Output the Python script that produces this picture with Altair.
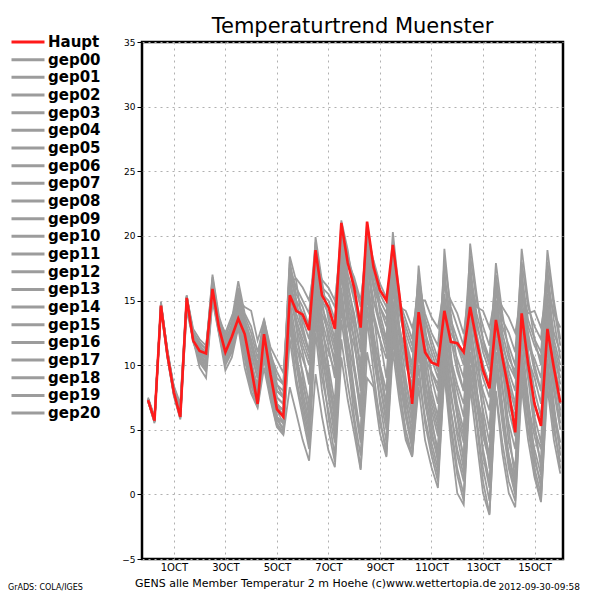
import altair as alt
import pandas as pd

# 6-hourly forecast steps, 2012-09-30 00Z .. 2012-10-16 00Z
times = pd.date_range("2012-09-30 00:00", periods=65, freq="6h").strftime("%Y-%m-%dT%H:%M:%SZ").tolist()

haupt = [7.3,5.7,14.6,10.8, 7.9,6.0,15.2,11.9, 11.1,10.9,15.9,12.9, 11.0,12.2,13.6,12.4,
         9.8,7.0,12.4,9.3, 6.6,6.0,15.4,14.2, 13.9,12.7,18.9,15.4, 14.5,12.8,21.0,17.9,
         16.0,12.9,21.1,17.6, 15.8,15.0,19.3,15.5, 11.1,7.0,14.1,11.0, 10.2,10.0,14.2,11.8,
         11.7,11.0,14.5,11.9, 9.6,8.2,13.5,10.6, 8.0,4.8,14.0,10.1, 7.0,5.3,12.8,9.8, 7.1]

gep00 = [7.4,5.9,14.8,11.0, 8.1,6.3,15.0,12.2, 11.4,10.6,16.2,13.2, 11.5,12.0,14.0,12.6,
         10.5,8.0,12.8,10.0, 7.5,7.0,16.0,13.5, 12.0,10.5,17.5,14.0, 12.5,10.0,19.0,15.5,
         13.0,9.5,18.0,14.0, 12.0,9.0,16.5,12.5, 9.0,6.0,13.5,10.0, 7.0,5.0,12.5,9.0,
         6.0,4.0,11.0,8.0, 5.5,3.0,12.0,9.5, 7.0,5.5,14.5,11.0, 8.0,6.0,13.0,9.0, 6.5]
gep01 = [7.2,5.6,14.5,10.7, 7.8,6.2,14.9,12.0, 10.8,10.2,15.6,12.8, 10.5,11.5,13.2,11.0,
         8.5,7.0,11.5,8.5, 6.0,5.0,13.5,10.0, 7.0,4.5,14.0,10.0, 6.0,3.0,13.5,10.0,
         7.0,4.0,14.5,11.0, 8.5,6.0,13.0,9.0, 6.0,3.5,11.5,7.5, 4.0,2.0,10.5,6.5,
         3.0,1.0,10.0,7.0, 4.5,2.5,11.0,6.5, 3.0,0.5,9.5,6.0, 3.5,1.5,10.0,6.5, 4.0]
gep02 = [7.4,5.8,14.7,11.2, 8.3,6.8,15.4,12.5, 11.8,11.2,16.5,13.5, 12.0,13.0,15.5,13.5,
         12.0,10.0,13.6,11.0, 9.0,8.5,17.5,16.0, 15.0,14.0,19.5,16.0, 15.5,14.5,20.5,18.5,
         16.5,14.5,20.0,17.0, 15.0,14.0,19.5,15.0, 13.5,12.0,16.5,14.0, 12.5,11.5,17.0,13.5,
         12.0,10.5,15.0,12.0, 10.0,8.5,14.0,11.5, 10.0,9.0,16.0,13.0, 11.5,10.5,15.5,12.5, 11.0]
gep03 = [7.3,5.7,14.4,10.6, 7.6,5.8,14.5,12.1, 10.2,9.5,15.2,12.5, 10.0,11.0,13.0,10.5,
         8.0,6.8,10.5,7.5, 5.3,4.8,12.0,8.5, 6.0,3.5,12.5,8.0, 5.0,2.5,12.0,8.5,
         5.5,2.0,11.0,8.5, 6.0,3.0,12.0,8.0, 5.0,3.0,10.0,5.5, 3.0,1.0,9.5,5.0,
         1.5,-0.5,9.0,5.5, 1.0,-1.5,8.0,4.0, 1.0,-0.5,9.0,5.0, 2.0,0.0,9.5,5.0, 2.5]
gep04 = [7.5,6.0,14.9,11.1, 8.2,6.5,15.4,12.3, 11.5,11.0,17.0,13.8, 12.2,13.5,16.5,14.0,
         13.0,11.0,13.2,10.5, 8.5,8.0,18.4,16.5, 13.0,11.0,19.9,16.5, 13.5,11.5,21.2,18.9,
         15.5,12.0,20.5,18.0, 14.0,12.0,20.3,15.5, 11.0,9.0,17.7,13.0, 9.0,7.0,19.0,14.0,
         10.0,8.0,19.4,15.5, 12.0,10.0,17.9,14.0, 11.0,9.0,19.0,15.0, 12.0,10.0,18.9,15.0, 12.0]
gep05 = [7.2,5.5,14.6,10.9, 7.8,6.0,15.0,11.8, 10.5,9.8,15.5,12.6, 10.2,11.2,14.2,11.5,
         9.0,7.5,12.0,9.0, 6.5,5.5,17.0,13.0, 9.0,6.0,18.5,13.5, 9.5,5.5,20.0,14.5,
         10.0,6.0,19.5,14.0, 10.0,7.0,18.0,12.0, 7.5,4.5,15.5,10.5, 6.0,3.0,17.5,11.0,
         6.0,2.5,18.0,11.5, 6.0,2.0,16.5,10.0, 5.0,1.0,17.5,11.0, 5.5,2.0,17.5,11.0, 6.0]
gep06 = [7.3,5.8,14.7,10.8, 8.0,6.1,15.1,11.9, 11.0,10.5,15.8,13.0, 11.2,12.3,14.5,12.8,
         11.0,9.0,13.0,10.5, 8.0,7.5,15.0,12.0, 10.5,9.0,16.0,12.5, 11.0,9.5,17.0,13.0,
         11.5,9.0,16.5,13.5, 12.0,10.5,17.0,13.0, 10.0,8.5,14.5,11.5, 9.5,8.0,14.0,10.5,
         8.5,7.0,13.0,10.0, 8.0,6.5,13.0,9.5, 7.5,6.0,12.5,9.0, 7.0,5.5,13.5,10.0, 8.0]
gep07 = [7.4,5.9,14.5,10.9, 8.4,7.0,15.3,12.8, 12.0,11.5,16.0,13.5, 12.5,13.8,15.0,14.5,
         14.2,11.9,13.5,11.4, 10.4,9.4,16.5,16.7, 16.0,15.0,18.0,16.6, 16.0,15.0,19.5,18.0,
         16.8,15.0,19.0,18.1, 16.3,15.2,18.5,14.5, 14.2,12.9,15.0,15.0, 13.7,12.9,16.0,15.0,
         14.0,12.4,16.5,14.5, 14.2,12.9,15.5,14.5, 13.7,12.5,15.5,14.0, 14.2,12.9,16.0,14.0, 12.9]
gep08 = [7.2,5.6,14.3,10.6, 7.7,5.9,14.2,12.0, 9.8,9.0,15.0,12.4, 9.6,10.6,12.9,9.8,
         7.8,6.7,9.8,7.3, 5.2,4.6,8.3,6.3, 4.2,2.6,9.3,6.0, 3.4,2.1,10.6,7.3,
         4.7,1.9,9.0,8.3, 4.7,2.9,11.1,7.3, 4.2,2.9,8.3,4.2, 2.1,0.5,9.3,4.2,
         0.1,-0.8,8.3,4.2, 0.1,-1.6,7.8,3.2, 0.1,-1.0,8.3,4.2, 1.3,-0.6,8.3,4.2, 1.6]
gep09 = [7.3,5.7,14.8,11.0, 8.0,6.4,14.8,12.4, 11.2,10.9,16.4,13.3, 11.8,12.8,15.8,13.0,
         10.0,8.5,13.0,10.0, 7.0,6.5,16.5,14.5, 13.5,12.0,18.0,15.0, 14.0,12.0,19.5,16.0,
         14.0,11.0,17.5,15.0, 13.5,11.5,18.5,14.0, 12.0,10.0,16.0,12.5, 11.0,9.5,15.5,12.0,
         10.5,9.0,17.0,13.5, 11.0,9.5,15.0,12.0, 9.5,8.0,16.5,12.5, 10.0,8.0,15.0,11.5, 9.5]
gep10 = [7.2,5.7,14.6,10.7, 7.9,6.1,15.0,11.9, 10.6,10.0,15.4,12.7, 10.8,11.8,13.8,11.8,
         9.5,7.5,11.0,8.0, 5.8,5.0,14.5,11.0, 8.0,5.5,15.5,11.0, 7.5,4.5,16.0,12.0,
         8.0,4.5,15.5,11.5, 7.0,4.0,14.5,10.0, 6.5,4.0,12.5,8.0, 5.0,2.5,12.0,8.0,
         4.5,2.0,12.5,8.5, 3.0,0.5,11.0,7.0, 2.5,0.0,12.0,7.5, 3.0,0.5,11.5,7.0, 3.0]
gep11 = [7.4,5.8,14.6,11.0, 8.1,6.2,15.3,12.1, 11.3,10.7,16.0,13.0, 11.3,12.5,14.8,13.2,
         11.5,9.5,12.5,9.5, 7.0,6.0,15.5,13.0, 11.0,8.5,17.0,13.0, 10.0,7.0,18.0,14.0,
         12.0,8.0,18.5,16.0, 14.5,13.0,19.0,14.5, 11.5,9.5,15.0,11.0, 8.0,6.0,13.5,10.0,
         8.0,6.0,14.0,11.0, 9.0,7.5,14.5,11.0, 8.5,6.5,13.5,10.5, 9.0,7.0,14.5,11.0, 9.0]
gep12 = [7.3,5.8,14.5,10.8, 7.9,6.0,15.1,12.2, 10.9,10.3,15.7,12.9, 10.7,11.8,14.3,12.0,
         9.0,7.8,12.0,9.5, 7.0,6.0,14.0,11.5, 9.5,7.0,16.0,12.0, 9.0,6.5,17.5,13.5,
         10.0,7.0,17.0,12.5, 9.5,6.5,15.0,10.5, 8.0,5.5,13.0,9.0, 5.5,3.5,11.5,7.5,
         5.0,3.0,12.0,8.0, 5.0,2.5,13.0,8.5, 4.0,2.0,11.0,7.0, 4.5,2.5,12.0,8.0, 5.0]
gep13 = [7.4,5.9,14.7,11.1, 8.2,6.6,15.2,12.6, 11.6,11.3,16.8,13.6, 11.7,13.2,16.0,13.8,
         12.5,10.5,13.4,10.8, 9.5,8.5,18.0,15.5, 14.5,13.0,19.0,15.5, 15.0,13.5,20.0,17.0,
         15.5,13.5,21.0,17.5, 15.5,14.5,19.0,15.0, 12.5,11.0,17.0,13.5, 11.5,10.0,18.0,14.5,
         13.0,11.5,18.5,15.0, 13.0,11.5,17.0,13.5, 12.5,11.0,18.0,14.5, 13.0,12.0,18.0,14.5, 11.5]
gep14 = [7.2,5.6,14.4,10.8, 7.7,6.0,14.8,12.0, 10.3,9.6,15.3,12.6, 10.3,11.4,13.6,11.2,
         8.8,7.2,11.0,8.0, 5.5,4.8,13.0,9.0, 6.5,4.0,13.5,9.0, 6.5,4.0,14.5,10.5,
         6.0,3.0,13.5,9.5, 5.5,3.5,12.5,8.5, 4.5,3.0,9.0,6.0, 3.5,1.5,10.0,5.5,
         2.0,0.0,9.5,6.0, 2.0,-0.5,9.5,5.5, 2.0,0.0,10.0,6.0, 1.5,-0.5,9.0,5.5, 2.0]
gep15 = [7.3,5.7,14.6,10.9, 8.0,6.3,15.2,12.0, 11.0,10.6,16.1,13.1, 11.4,12.6,15.0,12.5,
         10.0,8.0,12.5,9.5, 7.0,6.5,16.0,14.0, 12.5,11.0,17.0,14.5, 13.0,11.0,18.5,15.0,
         12.0,8.5,17.0,12.0, 8.5,5.5,14.0,10.0, 7.0,5.0,12.0,8.5, 6.5,4.5,15.0,10.0,
         7.0,5.0,16.0,11.0, 7.5,5.0,15.0,10.5, 6.5,4.5,15.5,10.5, 6.0,4.0,14.0,9.5, 7.0]
gep16 = [7.3,5.8,14.7,11.0, 8.1,6.4,15.3,12.3, 11.3,10.8,16.3,13.3, 11.8,13.0,15.5,13.3,
         11.8,9.8,13.2,10.8, 8.5,7.5,17.0,15.0, 14.0,13.0,18.5,15.5, 14.5,13.0,20.5,17.0,
         15.0,12.5,19.5,16.5, 14.5,13.5,18.5,14.5, 13.0,11.5,16.0,13.5, 12.0,10.5,16.5,13.0,
         11.5,10.0,17.5,14.0, 12.0,10.5,16.0,13.0, 11.5,10.0,17.0,13.5, 12.0,11.0,17.0,13.5, 10.5]
gep17 = [7.2,5.6,14.5,10.7, 7.8,5.9,14.9,11.8, 10.4,9.8,15.5,12.7, 10.4,11.2,13.4,11.3,
         8.5,7.0,11.8,8.8, 6.0,5.5,14.0,10.5, 7.5,5.0,15.0,10.5, 8.0,5.0,15.5,11.0,
         7.5,4.5,14.5,10.5, 7.5,5.0,13.5,9.5, 6.0,4.0,11.0,7.0, 4.5,3.0,11.0,6.5,
         3.5,1.5,11.0,7.0, 3.5,1.0,10.0,6.0, 3.0,1.0,10.5,6.5, 2.5,1.0,10.5,6.0, 3.5]
gep18 = [7.4,5.8,14.6,10.9, 8.0,6.2,15.1,12.1, 11.1,10.8,15.9,13.0, 11.2,12.4,14.2,12.0,
         9.5,8.0,12.8,9.8, 7.5,7.0,15.8,13.5, 11.5,10.0,16.5,13.5, 11.5,9.0,18.0,14.5,
         13.0,10.0,18.0,15.0, 13.0,12.0,17.5,13.0, 10.5,8.0,14.0,10.5, 9.5,8.5,14.5,12.0,
         9.5,8.0,15.5,12.5, 10.0,8.5,14.0,11.0, 9.0,7.0,14.0,11.5, 10.5,9.0,14.5,11.0, 8.5]
gep19 = [7.3,5.7,14.5,10.8, 7.9,6.1,15.0,11.9, 10.7,10.1,15.6,12.8, 10.6,11.6,13.8,11.6,
         9.0,7.5,11.5,8.5, 6.0,5.5,13.5,10.5, 8.5,6.5,14.5,11.5, 8.5,6.0,15.0,12.0,
         9.5,6.5,16.0,12.0, 10.0,8.0,16.0,11.0, 8.5,6.5,13.5,9.5, 7.5,5.5,13.0,9.0,
         6.5,4.5,13.5,9.5, 6.5,4.0,12.0,8.0, 5.5,3.5,13.0,9.0, 5.0,3.5,12.5,8.5, 5.5]
gep20 = [7.4,5.9,14.7,11.0, 8.1,6.5,15.2,12.4, 11.4,11.0,16.6,13.4, 11.6,12.7,15.2,13.0,
         11.0,9.0,13.0,10.2, 8.0,7.5,17.5,15.0, 12.5,11.0,19.0,15.0, 12.0,10.5,19.5,16.5,
         13.5,11.5,20.0,16.0, 13.0,11.0,17.0,12.5, 11.5,10.0,15.5,12.0, 10.5,9.0,15.0,12.5,
         11.5,10.5,16.5,13.0, 11.5,10.0,16.5,12.5, 10.5,9.5,16.5,12.0, 9.5,8.0,16.5,12.0, 10.0]

members = [gep00, gep01, gep02, gep03, gep04, gep05, gep06, gep07, gep08, gep09, gep10,
           gep11, gep12, gep13, gep14, gep15, gep16, gep17, gep18, gep19, gep20]
member_names = [f"gep{i:02d}" for i in range(21)]
names = ["Haupt"] + member_names

x_tick_days = [1, 3, 5, 7, 9, 11, 13, 15]
y_ticks = [-5, 0, 5, 10, 15, 20, 25, 30, 35]

title_text = "Temperaturtrend  Muenster"
caption_text = "GENS alle Member Temperatur 2 m Hoehe (c)www.wettertopia.de"
grads_text = "GrADS: COLA/IGES"
stamp_text = "2012-09-30-09:58"

rows = []
for nm, vals in zip(member_names, members):
    for t, v in zip(times, vals):
        rows.append({"time": t, "member": nm, "value": v})
df_members = pd.DataFrame(rows)
df_haupt = pd.DataFrame({"time": times, "member": "Haupt", "value": haupt})

FONT = "DejaVu Sans"

color_scale = alt.Scale(domain=names, range=["#ff1a1a"] + ["#9c9c9c"] * 21)
legend = alt.Legend(orient="none", legendX=-132, legendY=-7, title=None,
                    symbolType="stroke", symbolSize=1089, symbolStrokeWidth=3,
                    clipHeight=14, rowPadding=2.67, padding=0,
                    labelFont=FONT, labelFontSize=15, labelFontWeight="bold",
                    labelColor="black", labelOffset=2, labelLimit=0)

x_enc = alt.X("time:T",
              scale=alt.Scale(type="utc",
                              domain=[alt.DateTime(year=2012, month=9, date=29, hours=18, minutes=20, utc=True),
                                      alt.DateTime(year=2012, month=10, date=16, hours=2, minutes=30, utc=True)]),
              axis=alt.Axis(values=[alt.DateTime(year=2012, month=10, date=d, utc=True) for d in x_tick_days],
                            labelExpr="utcFormat(datum.value, '%-d') + 'OCT'",
                            tickSize=0, labelFontSize=10, labelPadding=3, labelAngle=0,
                            labelFlush=False, labelOverlap=False, title=None))
y_enc = alt.Y("value:Q", scale=alt.Scale(domain=[-5, 35], nice=False, zero=False),
              axis=alt.Axis(values=y_ticks, tickSize=5, labelFontSize=9, labelPadding=2, title=None))

gray = alt.Chart(df_members).mark_line(strokeWidth=1.8, clip=True).encode(
    x=x_enc, y=y_enc,
    color=alt.Color("member:N", scale=color_scale, legend=legend, sort=names),
    detail="member:N",
)
red = alt.Chart(df_haupt).mark_line(strokeWidth=2.6, clip=True).encode(
    x=x_enc, y=y_enc,
    color=alt.Color("member:N", scale=color_scale, legend=legend, sort=names),
)

def label(text, x, y, size, align="left", weight="normal"):
    return alt.Chart(pd.DataFrame({"t": [text]})).mark_text(
        font=FONT, fontSize=size, align=align, baseline="alphabetic",
        color="black", fontWeight=weight
    ).encode(text="t:N", x=alt.value(x), y=alt.value(y))

title = label(title_text, 210.5, -9, 21, align="center")
caption = label(caption_text, -7, 545, 11)
grads = label(grads_text, -134, 548, 8)
stamp = label(stamp_text, 438, 548, 9, align="right")

chart = alt.layer(gray, red, title, caption, grads, stamp).properties(
    width=421, height=517,
    autosize=alt.AutoSizeParams(type="none"),
    padding={"left": 134, "top": 34, "right": 29, "bottom": 33},
    background="white",
).configure_view(stroke="black", strokeWidth=2.5).configure_axis(
    domain=False, grid=True, gridColor="#b0b0b0", gridDash=[2, 4], gridWidth=1,
    labelFont=FONT, labelColor="black", tickColor="black"
)

chart.save("out.html", embed_options={"renderer": "svg", "actions": False})
